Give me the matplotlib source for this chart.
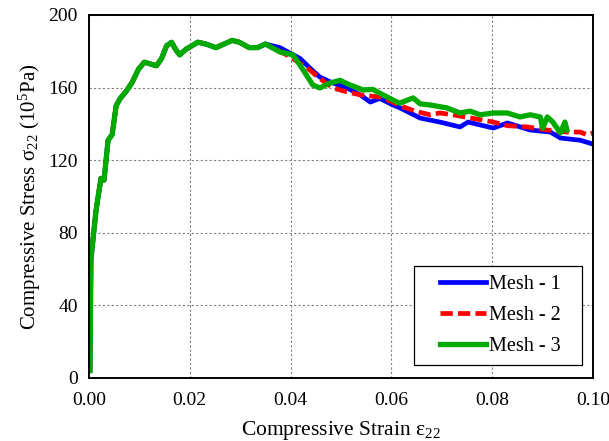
import numpy as np
import matplotlib.pyplot as plt
from matplotlib.patches import Rectangle

plt.rcParams['font.family'] = ['Liberation Serif', 'DejaVu Serif']
plt.rcParams['mathtext.fontset'] = 'stix'

# common early part of the curves (all three meshes overlap here)
strain_a = [0.0002, 0.0004, 0.0008, 0.0014, 0.002, 0.0024, 0.003, 0.0034, 0.0038,
            0.0046, 0.005, 0.0054, 0.0062, 0.0074, 0.0086, 0.0098, 0.011, 0.0122,
            0.0134, 0.0144, 0.0154, 0.0164, 0.0172, 0.018, 0.0192, 0.0204, 0.0216,
            0.0232, 0.0252, 0.0268, 0.0284, 0.0298, 0.0318, 0.0334, 0.035]
stress_a = [4, 65, 76, 92, 103, 110, 109, 120, 131, 134, 142, 150, 154, 158, 163,
            170, 174, 173, 172, 176, 183, 185, 181, 178, 181, 183, 185, 184, 182,
            184, 186, 185, 182, 182, 184]

# mesh 1 (blue)
strain_1 = [0.0379, 0.0419, 0.0438, 0.0458, 0.0484, 0.0512, 0.0538, 0.0558, 0.0577,
            0.0603, 0.0617, 0.0657, 0.0696, 0.0736, 0.0752, 0.0776, 0.0802, 0.083,
            0.0875, 0.0915, 0.0935, 0.0974, 0.0998]
stress_1 = [182, 176, 170.8, 165.8, 162.5, 159.8, 156, 152, 154, 150.4, 148.8, 143.2,
            141, 138.3, 141, 139.4, 137.7, 140.5, 136.6, 135.5, 132.2, 131, 129]

# mesh 2 (red)
strain_2 = [0.0399, 0.0438, 0.0458, 0.0484, 0.0512, 0.0538, 0.0577, 0.0603, 0.0617,
            0.0647, 0.0677, 0.0696, 0.0722, 0.0762, 0.0802, 0.083, 0.087, 0.0909,
            0.0948, 0.0974, 0.0988, 0.1]
stress_2 = [177, 169.7, 165, 159.8, 157.6, 156, 154.8, 152, 150, 147, 145, 146, 145,
            143, 141, 139, 138.3, 136.6, 135.5, 135.5, 134, 135]

# mesh 3 (green)
strain_3 = [0.0379, 0.0405, 0.0425, 0.0444, 0.0458, 0.0478, 0.0498, 0.0518, 0.0544,
            0.0563, 0.0583, 0.0611, 0.0617, 0.0643, 0.0657, 0.0677, 0.071, 0.0736,
            0.0756, 0.0776, 0.0802, 0.083, 0.0855, 0.0875, 0.0895, 0.090, 0.0909,
            0.092, 0.0935, 0.0944, 0.0948]
stress_3 = [179.6, 178, 169.7, 161.4, 159.8, 162.5, 164, 161.4, 158.7, 159, 156, 152,
            151.5, 154.3, 151, 150.4, 148.8, 146, 147, 145, 146, 146, 143.8, 145,
            143.8, 137.7, 143.8, 141, 135, 141, 136.6]

fig, ax = plt.subplots(figsize=(6.09, 4.41), dpi=100)

ax.plot(strain_a + strain_1, stress_a + stress_1, color='#0000ff', lw=3.4,
        label='Mesh - 1')
ax.plot(strain_a + strain_2, stress_a + stress_2, color='#ff0000', lw=3.4,
        ls=(0, (2.6, 1.1)), label='Mesh - 2')
ax.plot(strain_a + strain_3, stress_a + stress_3, color='#00aa00', lw=3.8,
        label='Mesh - 3')

ax.set_xlim(0, 0.10)
ax.set_ylim(0, 200)
ax.set_xticks([0.00, 0.02, 0.04, 0.06, 0.08, 0.10])
ax.set_yticks([0, 40, 80, 120, 160, 200])
ax.xaxis.set_major_formatter(plt.FormatStrFormatter('%.2f'))
ax.tick_params(length=0, labelsize=14)
ax.tick_params(axis='x', pad=10)
ax.tick_params(axis='y', pad=8)
ax.grid(True, ls=(0, (2, 2)), color='gray', lw=0.8)
for s in ax.spines.values():
    s.set_linewidth(1.4)

ax.set_xlabel(r'Compressive Strain $\mathregular{\varepsilon_{22}}$', fontsize=15.5,
              labelpad=7)
ax.set_ylabel(r'Compressive Stress $\mathregular{\sigma_{22}}$ (10$^\mathregular{5}$Pa)', fontsize=15)

# legend frame drawn as its own box, legend entries placed inside
ax.add_patch(Rectangle((0.645, 0.036), 0.333, 0.273, transform=ax.transAxes,
                       facecolor='white', edgecolor='black', lw=0.9, zorder=5))
leg = ax.legend(loc='center left', fontsize=14.5, frameon=False,
                handlelength=2.3, handletextpad=0.15, labelspacing=0.6,
                borderpad=0, borderaxespad=0, bbox_to_anchor=(0.696, 0.1725))
leg.set_zorder(6)

plt.subplots_adjust(left=0.146, right=0.974, top=0.966, bottom=0.143)
plt.savefig('out.png', dpi=100)
